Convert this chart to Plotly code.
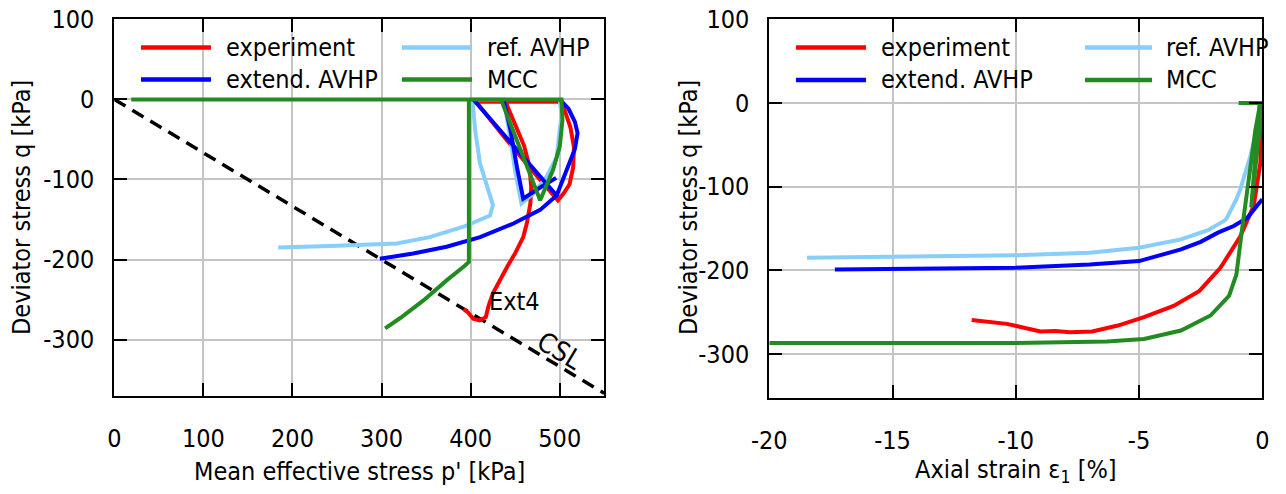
import plotly.graph_objects as go

W, H = 1286, 494
FONT = "DejaVu Sans Condensed, DejaVu Sans, sans-serif"
FS = 25

series_names = ["experiment", "extend. AVHP", "ref. AVHP", "MCC"]
series_colors = ["#ff0000", "#0000ff", "#87cefa", "#228b22"]

# ---- stress paths in the p'-q plane (None separates path segments) ----
exp_p = [403, 500, None,
         500, 506, 512, 516, 515, 511, 504, 498, 470, 440, 404, None,
         438, 450, 460, 466, 468, 467, 463, 459, 450, 441, 432, 425, 420, 417, 410, 403, 397, 392]
exp_q = [-3, -3, None,
         0, -15, -35, -60, -85, -106, -118, -126, -90, -50, 0, None,
         0, -30, -58, -84, -110, -130, -155, -172, -192, -209, -228, -242, -258, -272, -276, -274, -266, -262]

ref_p = [500, 502, 500, 496.5, 485, 470, 457, 450, 444, 437, 402,
         403, 405, 410.5, 418, 425, 421.7, 392, 354, 317, 242, 184]
ref_q = [0, -20, -38, -72, -97, -118, -130, -90, -45, 0, 0,
         -18, -38, -80, -109, -132, -145, -159, -172, -180, -183, -185]

ext_p = [500, 510, 517, 520, 517, 508, 496.5, None,
         437, 445, 452, 459, 478, 496, None,
         403, 496.5, 478, 448, 410.6, 373, 335.5, 298]
ext_q = [0, -12, -28, -42, -62, -88, -120, None,
         0, -40, -85, -124, -110, -98, None,
         0, -120, -138, -155, -172, -184, -192.5, -199]

mcc_p = [19, 500, 502, 503, 500, 492.5, 485, 478, 434, 398, 398, 393, 373, 347, 321, 304]
mcc_q = [0, 0, 0, -26, -59, -88, -109, -126, 0, 0, -203, -208, -226, -251, -273, -286]

# critical state line in extension
csl_p = [0, 550]
csl_q = [0, -367]

# ---- deviator stress vs axial strain ----
exp_eps = [-11.79, -11.2, -10.36, -9.76, -9.0, -8.4, -7.8, -6.9, -5.86, -4.8, -3.6, -2.55,
           -1.7, -0.9, -0.35, -0.08, 0]
exp_q2 = [-259.5, -261, -264, -268, -273, -272.5, -274, -273, -266, -256, -242.5, -224.6,
          -197, -160, -123, -72, 0]

ref_eps = [-18.47, -14, -10, -7, -5, -3.3, -2.2, -1.5, -1.43, -1.05, -0.89, -0.49, -0.15, 0]
ref_q2 = [-185, -184, -182, -179, -173, -163, -152, -140, -137, -115, -103, -64, -24.5, -5]

ext_eps = [-17.34, -14, -10, -7, -5, -3.3, -2.5, -1.8, -1.16, -0.6, 0]
ext_q2 = [-199, -198, -196.8, -193, -189, -175, -166, -155, -147, -137, -115]

mcc_eps = [-20, -10, -6.3, -4.8, -3.3, -2.1, -1.35, -1.05, -0.82, -0.55, -0.28, -0.08, 0, None,
           -0.96, 0, None,
           0, -0.2, -0.45, -0.3, -0.1]
mcc_q2 = [-287, -287, -285, -282, -272, -254, -230.5, -205, -150.7, -91.5, -32, 0, 0, None,
          0, 0, None,
          0, -60, -125, -70, 0]

p_ticks = [0, 100, 200, 300, 400, 500]
p_labels = ["0", "100", "200", "300", "400", "500"]
q_ticks = [100, 0, -100, -200, -300]
q_labels = ["100", "0", "-100", "-200", "-300"]
eps_ticks = [-20, -15, -10, -5, 0]
eps_labels = ["-20", "-15", "-10", "-5", "0"]

fig = go.Figure()

fig.add_trace(go.Scatter(x=csl_p, y=csl_q, mode="lines", xaxis="x", yaxis="y",
                         line=dict(color="black", width=3.5, dash="13px,8px"),
                         showlegend=False, hoverinfo="skip"))

left_paths = [(exp_p, exp_q), (ext_p, ext_q), (ref_p, ref_q), (mcc_p, mcc_q)]
right_paths = [(exp_eps, exp_q2), (ext_eps, ext_q2), (ref_eps, ref_q2), (mcc_eps, mcc_q2)]
draw_order = [0, 2, 1, 3]
for i in draw_order:
    px, py = left_paths[i]
    fig.add_trace(go.Scatter(x=px, y=py, mode="lines", xaxis="x", yaxis="y",
                             name=series_names[i], showlegend=False,
                             line=dict(color=series_colors[i], width=4)))
for i in draw_order:
    ex, ey = right_paths[i]
    fig.add_trace(go.Scatter(x=ex, y=ey, mode="lines", xaxis="x2", yaxis="y2",
                             name=series_names[i], showlegend=False,
                             line=dict(color=series_colors[i], width=4)))


def px_x(v):
    return v / W


def px_y(v):
    return 1 - v / H


axis_common = dict(
    ticks="inside", ticklen=13, tickwidth=1.5, tickcolor="black",
    showline=True, linewidth=2, linecolor="black", mirror="ticks",
    showgrid=True, gridcolor="#c4c4c4", gridwidth=1.5, zeroline=False,
    automargin=False, tickmode="array",
    tickfont=dict(family=FONT, size=FS, color="black"),
)

fig.update_layout(
    template="none",
    width=W, height=H, autosize=False,
    margin=dict(l=0, r=0, t=0, b=0, pad=0),
    paper_bgcolor="white", plot_bgcolor="white",
    showlegend=False,
    xaxis=dict(domain=[px_x(114.3), px_x(604.3)], range=[0, 550],
               tickvals=p_ticks, ticktext=p_labels,
               anchor="y", ticklabelstandoff=19, **axis_common),
    yaxis=dict(domain=[px_y(395.7), px_y(19.3)], range=[-370, 100],
               tickvals=q_ticks, ticktext=q_labels,
               anchor="x", ticklabelstandoff=13, **axis_common),
    xaxis2=dict(domain=[px_x(769.3), px_x(1262.3)], range=[-20, 0],
                tickvals=eps_ticks, ticktext=eps_labels,
                anchor="y2", ticklabelstandoff=19, **axis_common),
    yaxis2=dict(domain=[px_y(397.5), px_y(19.3)], range=[-352, 100],
                tickvals=q_ticks, ticktext=q_labels,
                anchor="x2", ticklabelstandoff=13, **axis_common),
)

annos = []
shapes = []
tfont = dict(family=FONT, size=FS, color="black")

# axis titles
annos.append(dict(text="Mean effective stress p' [kPa]", x=px_x(359.3), y=px_y(471),
                  xref="paper", yref="paper", showarrow=False, font=tfont,
                  xanchor="center", yanchor="middle"))
annos.append(dict(text="Axial strain ε<sub>1</sub> [%]", x=px_x(1015.8), y=px_y(471),
                  xref="paper", yref="paper", showarrow=False, font=tfont,
                  xanchor="center", yanchor="middle"))
for xc in (21, 688):
    annos.append(dict(text="Deviator stress q [kPa]", x=px_x(xc), y=px_y(208),
                      xref="paper", yref="paper", showarrow=False, font=tfont,
                      textangle=-90, xanchor="center", yanchor="middle"))

# in-plot labels
annos.append(dict(text="CSL", x=500, y=-313, xref="x", yref="y", showarrow=False,
                  font=dict(family=FONT, size=27, color="black"), textangle=31))
annos.append(dict(text="Ext4", x=449, y=-252, xref="x", yref="y", showarrow=False,
                  font=tfont))

# keys (two columns, two rows) for each panel
legend_layout = [
    # (line x0, line x1, text x, row y) for each series
    [(141, 211, 224, 47.5), (141, 211, 224, 79.5), (402, 472, 485, 47.5), (402, 472, 485, 79.5)],
    [(796, 866, 879, 47.5), (796, 866, 879, 80), (1085, 1152, 1164, 47.5), (1085, 1152, 1164, 80)],
]
for panel in legend_layout:
    for i, (x0, x1, xt, yr) in enumerate(panel):
        shapes.append(dict(type="line", xref="paper", yref="paper",
                           x0=px_x(x0), x1=px_x(x1), y0=px_y(yr), y1=px_y(yr),
                           line=dict(color=series_colors[i], width=4.5)))
        annos.append(dict(text=series_names[i], x=px_x(xt), y=px_y(yr), xref="paper",
                          yref="paper", showarrow=False, font=tfont,
                          xanchor="left", yanchor="middle"))

fig.update_layout(annotations=annos, shapes=shapes)
fig.write_html("out.html")
